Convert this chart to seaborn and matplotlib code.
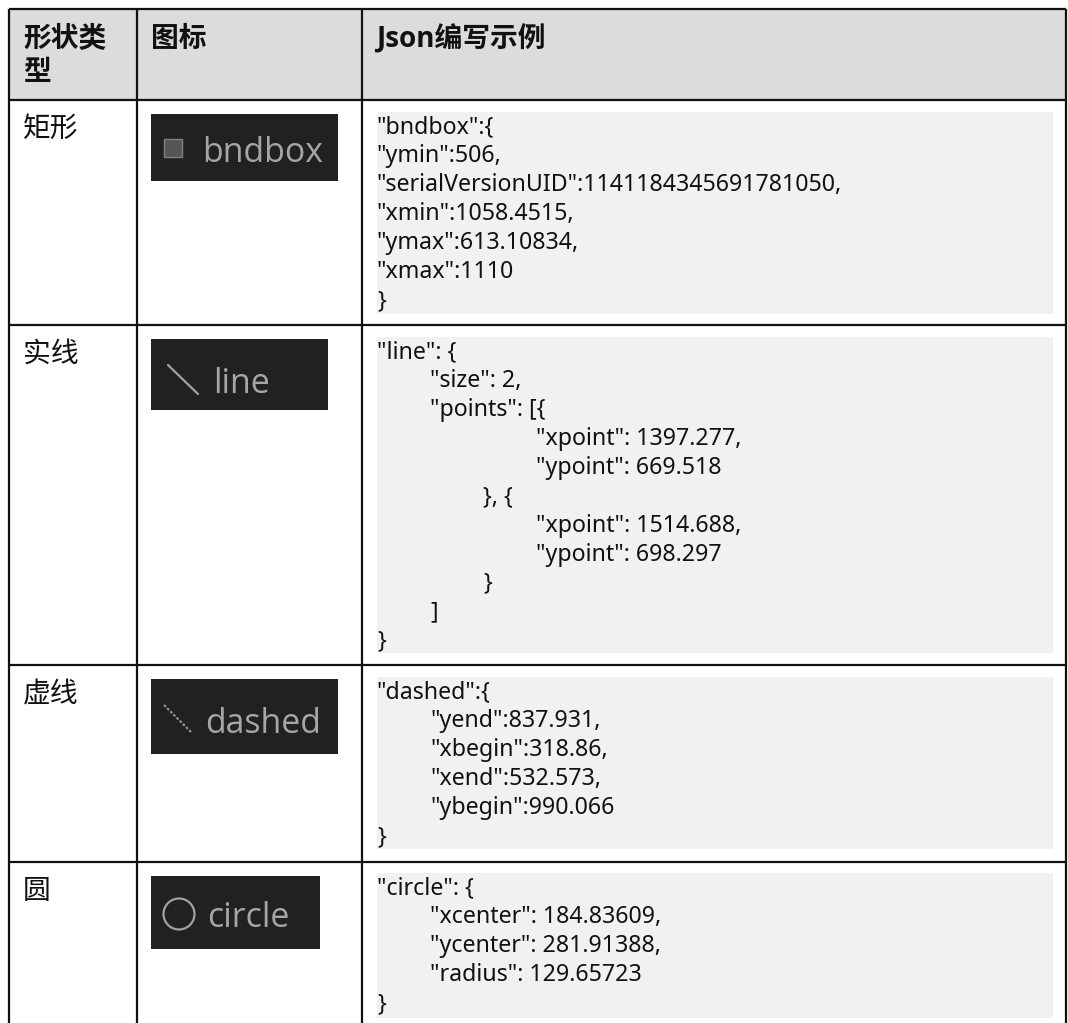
# 表格：形状类型 / 图标 / Json编写示例
import matplotlib
matplotlib.use('Agg')
import matplotlib.pyplot as plt
from matplotlib.patches import Rectangle, Circle
import seaborn as sns

# ++++++++++++++++++++++++++++++++++++++++++++++++++++ Data
headers = ['形状类\n型', '图标', 'Json编写示例']
shape_types = ['矩形', '实线', '虚线', '圆']
icon_labels = ['bndbox', 'line', 'dashed', 'circle']

# (缩进层级, 文本)
code_bndbox = [(0, '"bndbox":{'), (0, '"ymin":506,'),
               (0, '"serialVersionUID":1141184345691781050,'),
               (0, '"xmin":1058.4515,'), (0, '"ymax":613.10834,'),
               (0, '"xmax":1110'), (0, '}')]
code_line = [(0, '"line": {'), (1, '"size": 2,'), (1, '"points": [{'),
             (3, '"xpoint": 1397.277,'), (3, '"ypoint": 669.518'),
             (2, '}, {'),
             (3, '"xpoint": 1514.688,'), (3, '"ypoint": 698.297'),
             (2, '}'), (1, ']'), (0, '}')]
code_dashed = [(0, '"dashed":{'), (1, '"yend":837.931,'), (1, '"xbegin":318.86,'),
               (1, '"xend":532.573,'), (1, '"ybegin":990.066'), (0, '}')]
code_circle = [(0, '"circle": {'), (1, '"xcenter": 184.83609,'),
               (1, '"ycenter": 281.91388,'), (1, '"radius": 129.65723'), (0, '}')]
code_blocks = [code_bndbox, code_line, code_dashed, code_circle]

# ++++++++++++++++++++++++++++++++++++++++++++++++++++ Layout (pixels)
W, H = 1068, 1023
col_x = [9, 137, 362, 1066]
row_y = [9, 99.5, 324.5, 665, 861.5]
box_spans = [(112, 314), (337, 653), (677, 849), (873, 1018)]
icon_boxes = [(151, 114, 187, 67), (151, 339, 177, 71), (151, 679, 187, 75), (151, 876, 169, 73)]
icon_text_x = [202, 213, 205, 207]
icon_base_y = [162, 393, 733, 927]

sns.set_theme(style='white')
plt.rcParams['font.family'] = ['Noto Sans', 'Noto Sans CJK SC', 'DejaVu Sans']

fig = plt.figure(figsize=(W / 100, H / 100), dpi=100)
ax = fig.add_axes([0, 0, 1, 1])
ax.set_xlim(0, W)
ax.set_ylim(H, 0)
ax.axis('off')

# 表头底色
ax.add_patch(Rectangle((col_x[0], row_y[0]), col_x[-1] - col_x[0], row_y[1] - row_y[0],
                       fc='#dcdcdc', ec='none'))

# 表头文字
for i in range(len(headers)):
    ax.text(col_x[i] + 14, 25, headers[i], fontsize=20, fontweight='bold', color='#111111',
            family=['Open Sans', 'Noto Sans CJK SC', 'DejaVu Sans'], va='top', linespacing=1.18)

for i in range(len(shape_types)):
    top = row_y[i + 1]
    ax.text(col_x[0] + 14, top + 14.5, shape_types[i], fontsize=20, color='#111111',
            family=['Noto Sans CJK SC', 'DejaVu Sans'], va='top')

    # 图标
    x0, y0, w0, h0 = icon_boxes[i]
    ax.add_patch(Rectangle((x0, y0), w0, h0, fc='#212121', ec='none'))
    ax.text(icon_text_x[i], icon_base_y[i], icon_labels[i], fontsize=24.4, color='#a6a6a6',
            family=['Open Sans'], va='baseline')

    # 代码块
    y_a, y_b = box_spans[i]
    ax.add_patch(Rectangle((377, y_a), 1053 - 377, y_b - y_a, fc='#f1f1f1', ec='none'))
    for j, (lvl, txt) in enumerate(code_blocks[i]):
        ax.text(377 + lvl * 53, y_a + 21.5 + j * 28.9, txt, fontsize=16.7, color='#111111',
                va='baseline')

# 图标小图形
ax.add_patch(Rectangle((164, 139), 18, 18, fc='#555555', ec='#808080', lw=1))
ax.plot([168, 198], [365, 394], color='#a0a0a0', lw=1.6)
ax.plot([164, 192], [705, 733], color='#909090', lw=1.6, ls=(0, (1.2, 0.8)))
ax.add_patch(Circle((179, 914), 15.5, fc='none', ec='#a0a0a0', lw=1.6))

# 表格线
for x in col_x:
    ax.plot([x, x], [row_y[0], H], color='#111111', lw=1.6, solid_capstyle='butt')
for y in row_y:
    ax.plot([col_x[0], col_x[-1]], [y, y], color='#111111', lw=1.6, solid_capstyle='butt')

fig.savefig('out.png', dpi=100)
plt.close()
